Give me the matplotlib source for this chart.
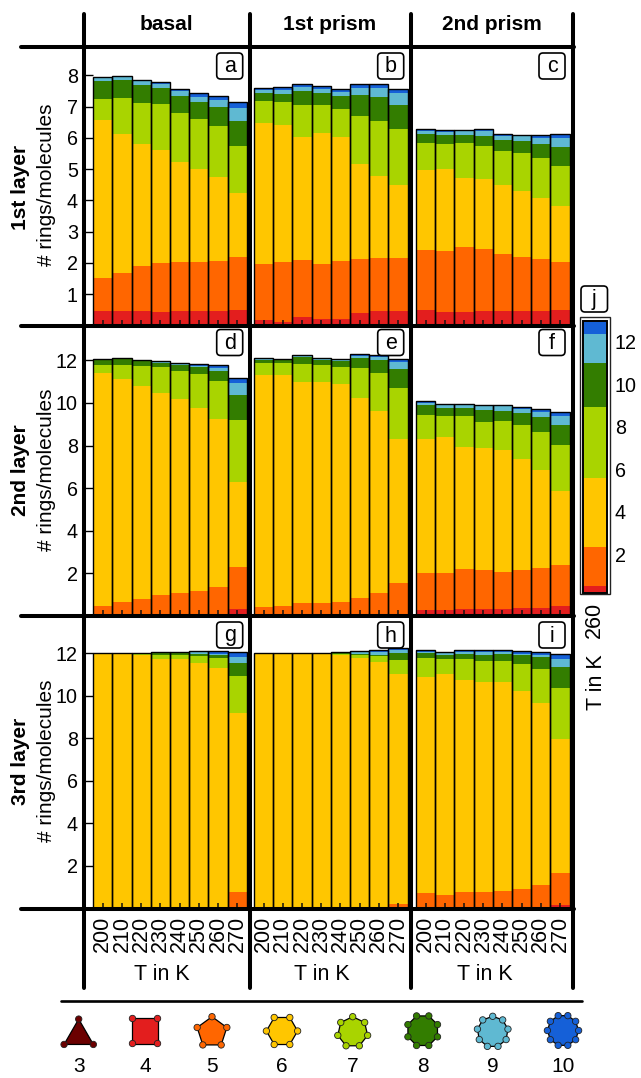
import numpy as np
import matplotlib
matplotlib.use("Agg")
import matplotlib.pyplot as plt
from matplotlib.patches import Polygon, Circle, FancyBboxPatch, Rectangle

plt.rcParams['font.family'] = ['Liberation Sans', 'DejaVu Sans']

W, H = 641, 1078

temps = [200, 210, 220, 230, 240, 250, 260, 270]
ring_colors = ['#e31e1e', '#ff6600', '#ffc600', '#a9d400', '#337d00', '#5fb9d2', '#1560d8']

# upper edge of each ring size in the stack (rings 4..10)
a4 = [.46, .46, .46, .43, .46, .46, .46, .49]
a5 = [1.51, 1.67, 1.90, 1.99, 2.03, 2.03, 2.06, 2.19]
a6 = [6.57, 6.12, 5.80, 5.61, 5.22, 5.00, 4.74, 4.23]
a7 = [7.24, 7.27, 7.11, 7.08, 6.79, 6.60, 6.38, 5.74]
a8 = [7.81, 7.85, 7.69, 7.59, 7.33, 7.14, 6.98, 6.54]
a9 = [7.91, 7.94, 7.81, 7.72, 7.49, 7.30, 7.21, 6.95]
a10 = [7.95, 7.97, 7.85, 7.78, 7.56, 7.43, 7.33, 7.15]

b4 = [.17, .11, .27, .20, .20, .39, .46, .46]
b5 = [1.96, 2.03, 2.09, 1.96, 2.06, 2.12, 2.15, 2.15]
b6 = [6.47, 6.41, 6.02, 6.15, 6.02, 5.16, 4.78, 4.49]
b7 = [7.17, 7.14, 7.05, 7.05, 6.92, 6.70, 6.54, 6.28]
b8 = [7.43, 7.40, 7.49, 7.43, 7.33, 7.37, 7.30, 7.05]
b9 = [7.53, 7.53, 7.62, 7.56, 7.46, 7.59, 7.59, 7.43]
b10 = [7.60, 7.62, 7.73, 7.65, 7.57, 7.71, 7.73, 7.57]

c4 = [.49, .43, .43, .46, .46, .46, .46, .49]
c5 = [2.41, 2.38, 2.51, 2.44, 2.28, 2.19, 2.12, 2.03]
c6 = [4.97, 5.00, 4.71, 4.68, 4.49, 4.30, 4.07, 3.82]
c7 = [5.83, 5.80, 5.83, 5.74, 5.58, 5.51, 5.35, 5.10]
c8 = [6.12, 6.09, 6.09, 6.06, 5.93, 5.90, 5.80, 5.70]
c9 = [6.22, 6.19, 6.22, 6.22, 6.06, 6.06, 5.99, 5.99]
c10 = [6.27, 6.24, 6.26, 6.28, 6.13, 6.11, 6.09, 6.12]

d4 = [0, 0, 0, 0, 0, 0, 0, .33]
d5 = [.47, .66, .80, .98, 1.08, 1.17, 1.36, 2.30]
d6 = [11.39, 11.11, 10.78, 10.45, 10.17, 9.75, 9.23, 6.28]
d7 = [11.77, 11.77, 11.72, 11.67, 11.48, 11.34, 11.02, 9.19]
d8 = [12.00, 12.05, 11.95, 11.86, 11.77, 11.67, 11.48, 10.36]
d9 = [12.03, 12.08, 11.98, 11.91, 11.81, 11.75, 11.63, 10.92]
d10 = [12.06, 12.09, 12.03, 11.97, 11.89, 11.84, 11.77, 11.19]

e4 = [0, 0, 0, 0, 0, 0, 0, .08]
e5 = [.42, .47, .61, .61, .66, .84, 1.08, 1.55]
e6 = [11.30, 11.30, 10.97, 10.97, 10.88, 10.22, 9.61, 8.30]
e7 = [11.86, 11.86, 11.81, 11.77, 11.67, 11.63, 11.39, 10.69]
e8 = [12.00, 12.00, 12.14, 12.00, 11.95, 12.09, 12.00, 11.58]
e9 = [12.05, 12.05, 12.22, 12.06, 12.03, 12.20, 12.16, 11.94]
e10 = [12.09, 12.08, 12.25, 12.11, 12.08, 12.30, 12.27, 12.08]

f4 = [.28, .28, .33, .33, .33, .38, .38, .47]
f5 = [2.02, 2.02, 2.20, 2.16, 2.06, 2.16, 2.25, 2.39]
f6 = [8.30, 8.39, 7.92, 7.88, 7.78, 7.36, 6.84, 5.86]
f7 = [9.42, 9.38, 9.38, 9.09, 9.14, 8.95, 8.63, 8.02]
f8 = [9.89, 9.75, 9.75, 9.66, 9.61, 9.52, 9.33, 8.95]
f9 = [9.98, 9.89, 9.89, 9.84, 9.84, 9.70, 9.56, 9.38]
f10 = [10.08, 9.97, 9.94, 9.91, 9.89, 9.83, 9.70, 9.58]

g4 = [0, 0, 0, 0, 0, 0, 0, 0]
g5 = [0, 0, 0, 0, 0, 0, 0, .78]
g6 = [11.99, 11.96, 11.90, 11.74, 11.74, 11.55, 11.32, 9.20]
g7 = [12.00, 12.00, 11.99, 11.94, 11.94, 11.88, 11.79, 10.94]
g8 = [12.00, 12.02, 12.02, 12.05, 12.05, 11.97, 11.91, 11.54]
g9 = [12.02, 12.02, 12.02, 12.06, 12.06, 12.04, 11.96, 11.83]
g10 = [12.03, 12.03, 12.03, 12.08, 12.08, 12.10, 12.10, 12.08]

h4 = [0, 0, 0, 0, 0, 0, 0, 0]
h5 = [0, 0, 0, 0, 0, 0, 0, .22]
h6 = [12.00, 11.97, 11.96, 11.96, 11.91, 11.79, 11.60, 11.03]
h7 = [12.02, 12.02, 11.99, 11.99, 11.97, 11.93, 11.88, 11.69]
h8 = [12.02, 12.02, 12.02, 12.02, 11.99, 11.97, 11.94, 12.02]
h9 = [12.02, 12.02, 12.02, 12.02, 12.02, 12.04, 12.04, 12.13]
h10 = [12.02, 12.03, 12.03, 12.03, 12.08, 12.10, 12.15, 12.23]

i4 = [0, 0, 0, 0, 0, 0, 0, .17]
i5 = [.74, .64, .78, .78, .83, .92, 1.11, 1.68]
i6 = [10.89, 11.03, 10.75, 10.66, 10.66, 10.24, 9.67, 7.98]
i7 = [11.79, 11.74, 11.74, 11.65, 11.65, 11.50, 11.27, 10.38]
i8 = [12.02, 11.93, 11.97, 11.93, 11.97, 11.93, 11.83, 11.36]
i9 = [12.07, 11.99, 12.05, 12.05, 12.05, 11.97, 11.93, 11.74]
i10 = [12.13, 12.05, 12.13, 12.13, 12.13, 12.11, 12.08, 11.96]

# colour bar j, one bar for 260 K
j_edges = [.22, .50, 2.34, 5.59, 8.93, 11.0, 12.37, 12.95]
j_ticks = [2, 4, 6, 8, 10, 12]

col_names = ['basal', '1st prism', '2nd prism']
row_names = ['1st layer', '2nd layer', '3rd layer']
ring_sizes = [3, 4, 5, 6, 7, 8, 9, 10]

panels = [
    ('a', [a4, a5, a6, a7, a8, a9, a10]), ('b', [b4, b5, b6, b7, b8, b9, b10]), ('c', [c4, c5, c6, c7, c8, c9, c10]),
    ('d', [d4, d5, d6, d7, d8, d9, d10]), ('e', [e4, e5, e6, e7, e8, e9, e10]), ('f', [f4, f5, f6, f7, f8, f9, f10]),
    ('g', [g4, g5, g6, g7, g8, g9, g10]), ('h', [h4, h5, h6, h7, h8, h9, h10]), ('i', [i4, i5, i6, i7, i8, i9, i10]),
]

# layout in pixels
vlines = [83.5, 249.5, 411, 573]
hlines = [46.5, 325.5, 616, 908.5]
first_bar = [102.8, 263.6, 425.6]
bar_px = 19.2
unit_px = [31.26, 21.3, 21.27]
row_ticks = [[1, 2, 3, 4, 5, 6, 7, 8], [2, 4, 6, 8, 10, 12], [2, 4, 6, 8, 10, 12]]

fig = plt.figure(figsize=(W / 100, H / 100), dpi=100, facecolor='white')


def px_axes(x0, y0, x1, y1):
    return fig.add_axes([x0 / W, 1 - y1 / H, (x1 - x0) / W, (y1 - y0) / H])


for n, (letter, tops) in enumerate(panels):
    row, col = divmod(n, 3)
    x0, x1 = vlines[col], vlines[col + 1]
    y0, y1 = hlines[row], hlines[row + 1]
    ax = px_axes(x0, y0, x1, y1)
    ax.patch.set_alpha(0)
    for s in ax.spines.values():
        s.set_visible(False)
    bottom = np.zeros(8)
    for k in range(7):
        top = np.array(tops[k], dtype=float)
        ax.bar(temps, top - bottom, bottom=bottom, width=10, color=ring_colors[k], linewidth=0)
        bottom = top
    ax.bar(temps, bottom, width=10, fill=False, edgecolor='black', linewidth=1.0, zorder=1.2)
    per_k = bar_px / 10
    ax.set_xlim(200 - (first_bar[col] - x0) / per_k, 200 + (x1 - first_bar[col]) / per_k)
    ax.set_ylim(0, (y1 - y0) / unit_px[row])
    ax.set_xticks(temps)
    ax.tick_params(axis='x', direction='in', length=4.5, width=1.1, color='#111111',
                   labelbottom=row == 2, labelsize=15.5, labelrotation=90, pad=5.5)
    if col == 0:
        ax.set_yticks(row_ticks[row])
        ax.tick_params(axis='y', direction='in', length=6.8, width=1.0, labelsize=14.2, pad=4)
    else:
        ax.set_yticks([])

# overlay for the frame, labels, letter boxes and ring legend
ov = fig.add_axes([0, 0, 1, 1], zorder=10)
ov.set_xlim(0, W)
ov.set_ylim(H, 0)
ov.axis('off')
ov.patch.set_alpha(0)

for x in vlines:
    ov.plot([x, x], [14, 988], color='black', lw=2.9, solid_capstyle='round')
for y in hlines:
    ov.plot([21, 574], [y, y], color='black', lw=2.9, solid_capstyle='round')
ov.plot([60.7, 582], [1000.7, 1000.7], color='black', lw=1.9, solid_capstyle='round')

for x, name in zip([166.7, 330, 491.7], col_names):
    ov.text(x, 24, name, ha='center', va='center', fontsize=15, fontweight='bold')
for y, name in zip([187, 470, 761.7], row_names):
    ov.text(20.7, y, name, ha='center', va='center', rotation=90, fontsize=15, fontweight='bold')
for y in [185, 470, 761]:
    ov.text(46.5, y, '# rings/molecules', ha='center', va='center', rotation=90, fontsize=15)
for x in [162, 322, 485]:
    ov.text(x, 974, 'T in K', ha='center', va='center', fontsize=15.5)

box_x = [216.7, 377.7, 539]
box_y = [53, 329.5, 622]
for n, (letter, _) in enumerate(panels):
    row, col = divmod(n, 3)
    ov.add_patch(FancyBboxPatch((box_x[col], box_y[row]), 26, 26, boxstyle='round,pad=0,rounding_size=4',
                                fc='white', ec='black', lw=1.2))
    ov.text(box_x[col] + 13, box_y[row] + 19.5, letter, ha='center', va='baseline', fontsize=15.5)

# colour bar
cb = px_axes(583.3, 321.7, 605.7, 592)
for s in cb.spines.values():
    s.set_visible(False)
for k in range(7):
    cb.bar([260], j_edges[k + 1] - j_edges[k], bottom=j_edges[k], width=10, color=ring_colors[k], linewidth=0)
cb.set_xlim(255, 265)
cb.set_ylim(j_edges[0], j_edges[-1])
cb.set_xticks([260])
cb.set_yticks(j_ticks)
cb.yaxis.tick_right()
cb.tick_params(axis='y', length=0, labelsize=14.2, pad=6.5)
cb.tick_params(axis='x', length=0, labelsize=15.5, labelrotation=90, pad=7)
ov.add_patch(Rectangle((580.3, 317), 29.2, 276.5, fill=False, ec='#222222', lw=1.0))
ov.add_patch(Rectangle((582.5, 320.5), 24, 272, fill=False, ec='black', lw=1.4))
ov.add_patch(FancyBboxPatch((581, 286), 26.5, 26, boxstyle='round,pad=0,rounding_size=4',
                            fc='white', ec='black', lw=1.2))
ov.text(594.2, 305, 'j', ha='center', va='baseline', fontsize=15.5)
ov.text(596, 682, 'T in K', ha='center', va='center', rotation=90, fontsize=15.5)

# ring legend
leg_x = [78.7, 145, 212, 282, 352.7, 422.7, 492.7, 563]
leg_y = [1036, 1031, 1032.3, 1031, 1032, 1030.7, 1031.8, 1030.5]
leg_r = [16.9, 17.7, 15.6, 15.6, 15.3, 16, 15.5, 15.6]
leg_rot = [0, 45, 0, 30, 0, 22.5, 0, 18]
leg_colors = ['#6b0000'] + ring_colors
for size, x, y, r, rot, c in zip(ring_sizes, leg_x, leg_y, leg_r, leg_rot, leg_colors):
    ang = np.radians(rot + 360 * np.arange(size) / size)
    px = x + r * np.sin(ang)
    py = y - r * np.cos(ang)
    ov.add_patch(Polygon(np.column_stack([px, py]), closed=True, fc=c, ec='black', lw=0.9))
    for p, q in zip(px, py):
        ov.add_patch(Circle((p, q), 3.2, fc=c, ec='#222222', lw=0.6))
    ov.text(x, 1066, str(size), ha='center', va='center', fontsize=15)

fig.savefig('out.png', dpi=100)
